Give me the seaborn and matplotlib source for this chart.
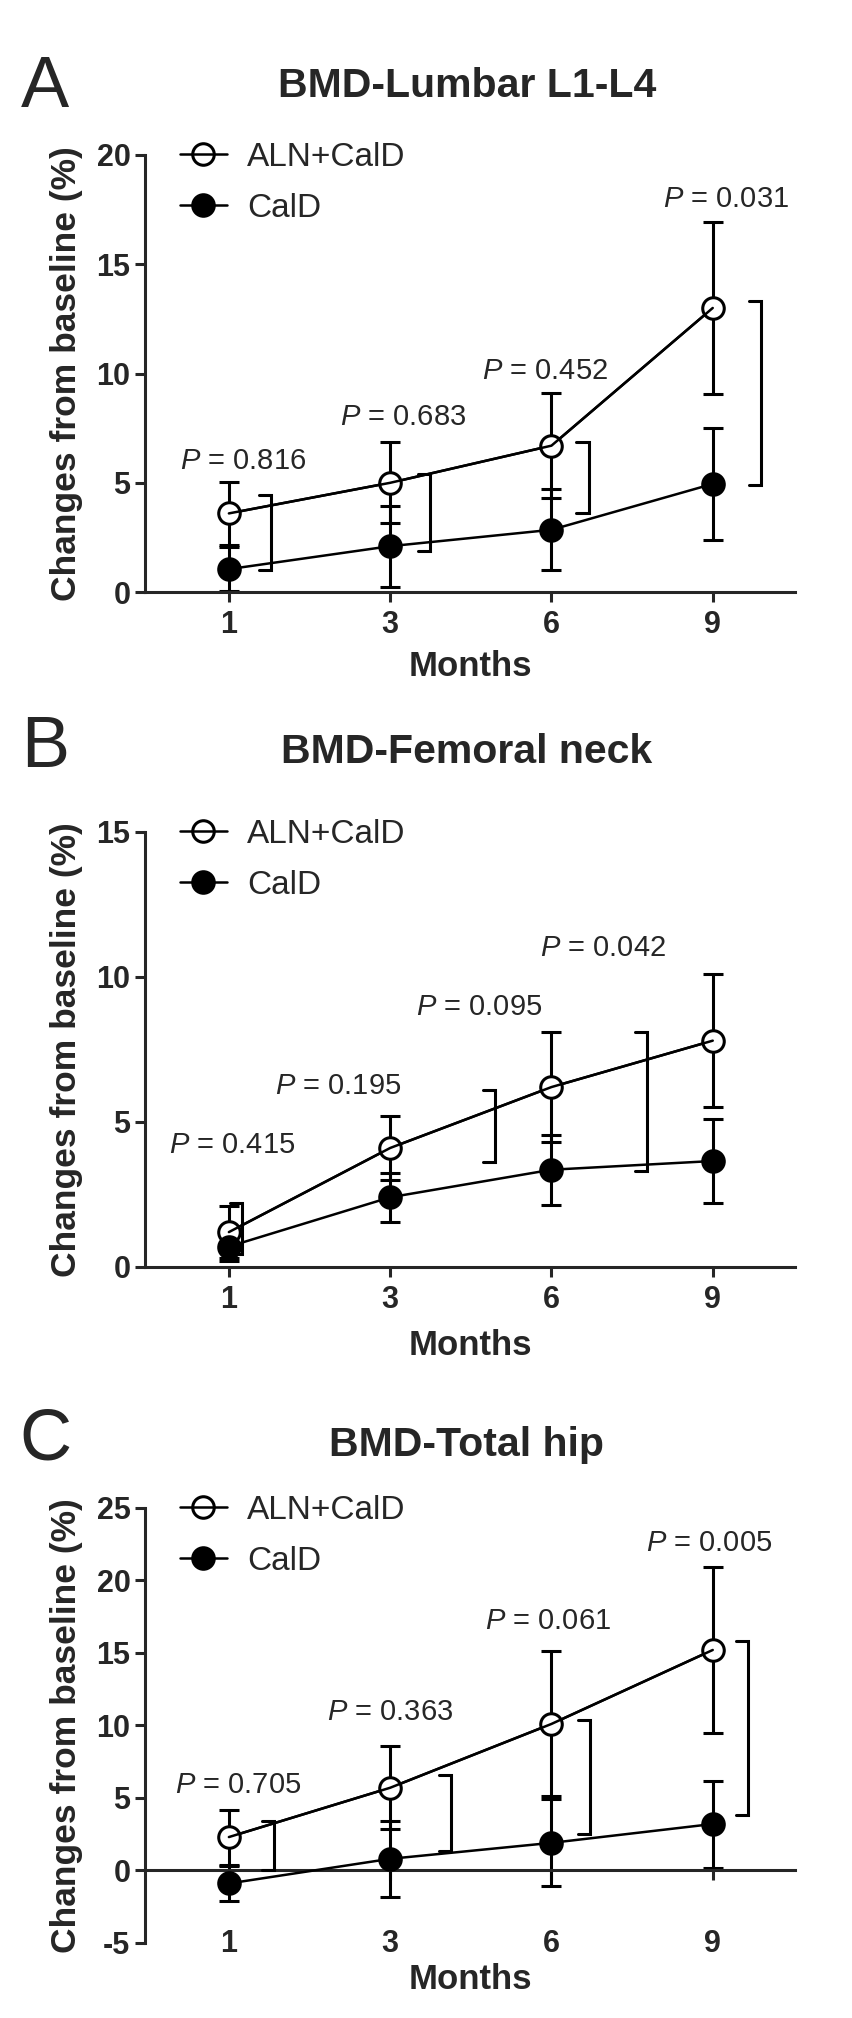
import numpy as np
import pandas as pd
import matplotlib
matplotlib.use('Agg')
import matplotlib.pyplot as plt
from matplotlib.lines import Line2D
import seaborn as sns

sns.set_style('ticks')
plt.rcParams['font.family'] = ['Liberation Sans', 'DejaVu Sans']
plt.rcParams['mathtext.fontset'] = 'custom'
plt.rcParams['mathtext.it'] = 'Liberation Sans:italic'
plt.rcParams['mathtext.rm'] = 'Liberation Sans'
plt.rcParams['axes.unicode_minus'] = False

# categories
months = ['1', '3', '6', '9']
groups = ['ALN+CalD', 'CalD']

# panel A - lumbar
a_aln = [3.6, 5.0, 6.7, 13.0]
a_aln_sd = [1.45, 1.85, 2.4, 3.95]
a_cald = [1.05, 2.1, 2.85, 4.95]
a_cald_sd = [1.0, 1.85, 1.85, 2.55]
a_p = ['0.816', '0.683', '0.452', '0.031']
a_br_top = [4.45, 5.4, 6.85, 13.3]
a_br_bot = [1.0, 1.9, 3.6, 4.9]

# panel B - femoral neck
b_aln = [1.2, 4.1, 6.2, 7.8]
b_aln_sd = [0.9, 1.1, 1.9, 2.3]
b_cald = [0.7, 2.4, 3.35, 3.65]
b_cald_sd = [0.5, 0.85, 1.2, 1.45]
b_p = ['0.415', '0.195', '0.095', '0.042']
b_br_top = [2.2, 6.1, 8.1]
b_br_bot = [0.45, 3.6, 3.3]

# panel C - total hip
c_aln = [2.3, 5.7, 10.1, 15.2]
c_aln_sd = [1.9, 2.85, 5.0, 5.7]
c_cald = [-0.9, 0.8, 1.9, 3.2]
c_cald_sd = [1.2, 2.6, 3.0, 3.0]
c_p = ['0.705', '0.363', '0.061', '0.005']
c_br_top = [3.4, 6.55, 10.4, 15.8]
c_br_bot = [0.0, 1.35, 2.5, 3.8]

# annotation placement (category units)
panels = [
    dict(letter='A', title='BMD-Lumbar L1-L4', aln=a_aln, aln_sd=a_aln_sd,
         cald=a_cald, cald_sd=a_cald_sd, p=a_p,
         p_x=[0.09, 1.08, 1.96, 3.08], p_y=[6.0, 8.0, 10.1, 18.0],
         br_x=[0.26, 1.25, 2.23, 3.30], br_top=a_br_top, br_bot=a_br_bot,
         ylim=(0, 20), yticks=np.arange(0, 21, 5),
         rect=[0.1702, 0.7066, 0.7629, 0.2166], ty=0.9574, ly=0.956,
         xlab_y=-0.133, xpad=6),
    dict(letter='B', title='BMD-Femoral neck', aln=b_aln, aln_sd=b_aln_sd,
         cald=b_cald, cald_sd=b_cald_sd, p=b_p,
         p_x=[0.02, 0.68, 1.55, 2.32], p_y=[4.2, 6.25, 8.95, 11.0],
         br_x=[0.08, 1.65, 2.59], br_top=b_br_top, br_bot=b_br_bot,
         ylim=(0, 15), yticks=np.arange(0, 16, 5),
         rect=[0.1702, 0.3722, 0.7629, 0.2156], ty=0.6274, ly=0.629,
         xlab_y=-0.143, xpad=6),
    dict(letter='C', title='BMD-Total hip', aln=c_aln, aln_sd=c_aln_sd,
         cald=c_cald, cald_sd=c_cald_sd, p=c_p,
         p_x=[0.06, 1.0, 1.98, 2.98], p_y=[5.9, 10.9, 17.2, 22.6],
         br_x=[0.28, 1.38, 2.24, 3.22], br_top=c_br_top, br_bot=c_br_bot,
         ylim=(-5, 25), yticks=np.arange(-5, 26, 5),
         rect=[0.1702, 0.0372, 0.7629, 0.2156], ty=0.2839, ly=0.286,
         xlab_y=-0.046, xpad=35),
]

LW = 2.2
fig = plt.figure(figsize=(8.52, 20.18), dpi=100)
pos = np.arange(len(months))

for pn in panels:
    ax = fig.add_axes(pn['rect'])
    df = pd.DataFrame({'pos': np.tile(pos, 2),
                       'val': pn['aln'] + pn['cald'],
                       'sd': pn['aln_sd'] + pn['cald_sd'],
                       'group': np.repeat(groups, len(months))})

    for g in groups:
        d = df[df['group'] == g]
        ax.errorbar(d['pos'], d['val'], yerr=d['sd'], fmt='none', ecolor='k',
                    elinewidth=LW, capsize=7, capthick=LW, zorder=2, clip_on=False)
    d = df[df['group'] == groups[0]]
    sns.lineplot(data=d, x='pos', y='val', ax=ax, color='k', lw=1.8, marker='o',
                 markersize=15.5, markerfacecolor='white', markeredgecolor='k',
                 markeredgewidth=LW, zorder=3, clip_on=False)
    sns.lineplot(data=d, x='pos', y='val', ax=ax, color='k', lw=1.8, zorder=4)
    d = df[df['group'] == groups[1]]
    sns.lineplot(data=d, x='pos', y='val', ax=ax, color='k', lw=1.8, marker='o',
                 markersize=15.5, markerfacecolor='k', markeredgecolor='k',
                 markeredgewidth=LW, zorder=5, clip_on=False)

    # brackets
    for bx, bt, bb in zip(pn['br_x'], pn['br_top'], pn['br_bot']):
        ax.plot([bx - 0.075, bx, bx, bx - 0.075], [bt, bt, bb, bb], color='k',
                lw=LW, solid_joinstyle='miter', zorder=4, clip_on=False)

    # p values
    for px, py, pv in zip(pn['p_x'], pn['p_y'], pn['p']):
        ax.text(px, py, r'$\mathit{P}$ = ' + pv, ha='center', va='center',
                fontsize=21, zorder=6)

    ax.set_xlim(-0.52, 3.51)
    ax.set_ylim(*pn['ylim'])
    ax.set_yticks(pn['yticks'])
    ax.set_xticks(pos)
    ax.set_xticklabels(months)
    sns.despine(ax=ax)
    for s in ['left', 'bottom']:
        ax.spines[s].set_linewidth(LW)
    if pn['ylim'][0] < 0:
        ax.spines['bottom'].set_position(('data', 0))
    ax.tick_params(axis='both', length=7, width=LW, labelsize=22, direction='out')
    ax.tick_params(axis='x', pad=pn['xpad'])
    for lbl in ax.get_xticklabels() + ax.get_yticklabels():
        lbl.set_fontweight('bold')

    ax.set_ylabel('Changes from baseline (%)', fontsize=25.5, fontweight='bold')
    ax.yaxis.set_label_coords(-0.095, 0.5)
    ax.set_xlabel('Months', fontsize=25, fontweight='bold', va='top')
    ax.xaxis.set_label_coords(0.5, pn['xlab_y'])

    handles = [Line2D([], [], color='k', lw=1.8, marker='o', ms=15.5, mfc='none',
                      mec='k', mew=LW),
               Line2D([], [], color='k', lw=1.8, marker='o', ms=15.5, mfc='k',
                      mec='k', mew=LW)]
    ax.legend(handles, groups, loc='upper left', bbox_to_anchor=(0.054, 1.03),
              frameon=False, fontsize=24, handlelength=1.4, handletextpad=0.6,
              labelspacing=0.6, borderpad=0, borderaxespad=0)

    fig.text(0.548, pn['ty'], pn['title'], ha='center', va='center',
             fontsize=29.5, fontweight='bold')
    fig.text(0.053, pn['ly'], pn['letter'], ha='center', va='center', fontsize=52)

fig.savefig('out.png', dpi=100)
